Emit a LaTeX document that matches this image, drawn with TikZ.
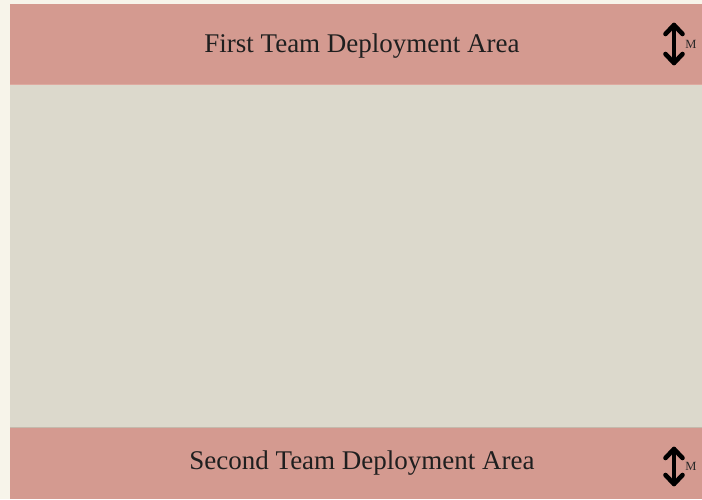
\documentclass[tikz,border=0pt]{standalone}
\usepackage{fontspec}
\setmainfont{Liberation Serif}
\usetikzlibrary{calc}
\definecolor{parchment}{RGB}{247,244,234}
\definecolor{zonered}{RGB}{212,154,144}
\definecolor{fieldgrey}{RGB}{220,217,204}
\definecolor{zoneedge}{RGB}{222,170,160}
\definecolor{fieldedge}{RGB}{196,186,172}
\tikzset{
  zone/.style={fill=zonered, draw=none},
  zonelabel/.style={font=\fontsize{27}{32}\selectfont, text=black!88, inner sep=0pt},
  dbarrow/.style={line width=4.6pt, line cap=round, line join=round, black},
  unitlabel/.style={font=\fontsize{12.5}{14}\selectfont, text=black!85, inner sep=0pt}
}
\begin{document}
\begin{tikzpicture}[x=1pt,y=1pt]
  % canvas
  \fill[parchment] (0,0) rectangle (702,499);
  \useasboundingbox (0,0) rectangle (702,499);
  % playing field
  \fill[fieldgrey] (10,71) rectangle (702,415);
  % deployment zones
  \fill[zone] (10,415) rectangle (702,495);
  \fill[zone] (10,0) rectangle (702,71);
  \draw[zoneedge, line width=1pt] (10,414.5) -- (702,414.5);
  \draw[fieldedge, line width=1pt] (10,71.5) -- (702,71.5);
  % labels
  \node[zonelabel] (first) at (362,453) {First Team Deployment Area};
  \node[zonelabel] (second) at (362,36) {Second Team Deployment Area};
  % depth markers, top zone
  \coordinate (ta) at (674,474);
  \coordinate (tb) at (674,436);
  \draw[dbarrow] (ta) -- (tb);
  \draw[dbarrow] ($(ta)+(-8.5,-9)$) -- (ta) -- ($(ta)+(8.5,-9)$);
  \draw[dbarrow] ($(tb)+(-8.5,9)$) -- (tb) -- ($(tb)+(8.5,9)$);
  \node[unitlabel] (tm) at (691,455) {M};
  % depth markers, bottom zone
  \coordinate (ba) at (674,50);
  \coordinate (bb) at (674,15);
  \draw[dbarrow] (ba) -- (bb);
  \draw[dbarrow] ($(ba)+(-8.5,-9)$) -- (ba) -- ($(ba)+(8.5,-9)$);
  \draw[dbarrow] ($(bb)+(-8.5,9)$) -- (bb) -- ($(bb)+(8.5,9)$);
  \node[unitlabel] (bm) at (691,33) {M};
\end{tikzpicture}
\end{document}
